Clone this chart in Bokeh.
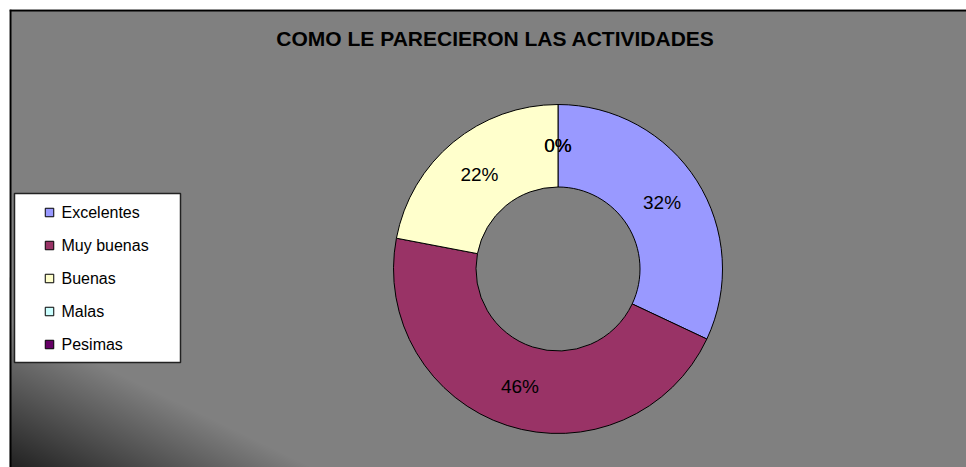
import numpy as np
from bokeh.plotting import figure
from bokeh.models import Range1d, ColumnDataSource, Span
from bokeh.core.properties import value
from bokeh.embed import file_html
from bokeh.resources import INLINE

# ---- data ----
title_text = "COMO LE PARECIERON LAS ACTIVIDADES"
categories = ["Excelentes", "Muy buenas", "Buenas", "Malas", "Pesimas"]
values = [32, 46, 22, 0, 0]
colors = ["#9999FF", "#993366", "#FFFFCC", "#CCFFFF", "#660066"]

# ---- figure ----
W, H = 966, 467
ML, MT = 9, 9
FW, FH = W - ML, H - MT
p = figure(width=W, height=H, x_range=Range1d(0, FW), y_range=Range1d(0, FH),
           output_backend="svg", toolbar_location=None,
           x_axis_location=None, y_axis_location=None,
           min_border_left=ML, min_border_top=MT, min_border_right=0, min_border_bottom=0,
           background_fill_color="#808080", border_fill_color="white")
p.grid.visible = False
p.outline_line_color = None

# corner gradient (style only)
gw, gh = 340, 190
X, Y = np.meshgrid(np.arange(gw) + 0.5, np.arange(gh) + 0.5)
d = X / 300.0 + Y / 145.0
g = (34 + (128 - 34) * np.clip(d, 0, 1)).astype(np.uint8)
img = np.empty((gh, gw), dtype=np.uint32)
view = img.view(dtype=np.uint8).reshape((gh, gw, 4))
view[..., 0] = g
view[..., 1] = g
view[..., 2] = g
view[..., 3] = 255
p.image_rgba(image=[img], x=0, y=0, dw=gw, dh=gh)

p.add_layout(Span(location=1, dimension="height", line_color="black", line_width=2))
p.add_layout(Span(location=FH - 1, dimension="width", line_color="black", line_width=2))

# ---- donut ----
cx, cy = 548.5, 198.5
r_in, r_out = 82, 164.5
total = float(sum(values))
fr = np.array(values) / total
cum_after = np.cumsum(fr)
cum_before = cum_after - fr
start = np.pi / 2 - cum_after * 2 * np.pi
end = np.pi / 2 - cum_before * 2 * np.pi
mid = np.pi / 2 - (cum_before + fr / 2) * 2 * np.pi

nz = [i for i, v in enumerate(values) if v > 0]
wsrc = ColumnDataSource(dict(
    start=[start[i] for i in nz], end=[end[i] for i in nz],
    color=[colors[i] for i in nz]))
p.annular_wedge(x=cx, y=cy, inner_radius=r_in, outer_radius=r_out,
                start_angle="start", end_angle="end", direction="anticlock",
                fill_color="color", line_color="black", line_width=1, source=wsrc)

r_lab = (r_in + r_out) / 2
lsrc = ColumnDataSource(dict(
    x=cx + r_lab * np.cos(mid), y=cy + r_lab * np.sin(mid),
    text=[f"{round(v / total * 100)}%" for v in values]))
p.text(x="x", y="y", text="text", source=lsrc, text_font=value("Liberation Sans"),
       text_font_size="19px", text_color="black", text_align="center",
       text_baseline="middle")

# ---- title ----
p.text(x=[486], y=[428.6], text=[title_text], text_font=value("Liberation Sans"),
       text_font_size="21px", text_font_style="bold", text_color="black",
       text_align="center", text_baseline="middle")

# ---- legend ----
p.quad(left=[5], right=[171], bottom=[105], top=[274], fill_color="white",
       line_color="#222222", line_width=1.5)
row_y = [255 - 33 * i for i in range(len(categories))]
p.rect(x=[40] * len(categories), y=row_y, width=8.5, height=8.5,
       fill_color=colors, line_color="black", line_width=1)
p.text(x=[52] * len(categories), y=row_y, text=categories,
       text_font=value("Liberation Sans"), text_font_size="16px",
       text_color="black", text_align="left", text_baseline="middle")

open("out.html", "w").write(file_html(p, INLINE))
